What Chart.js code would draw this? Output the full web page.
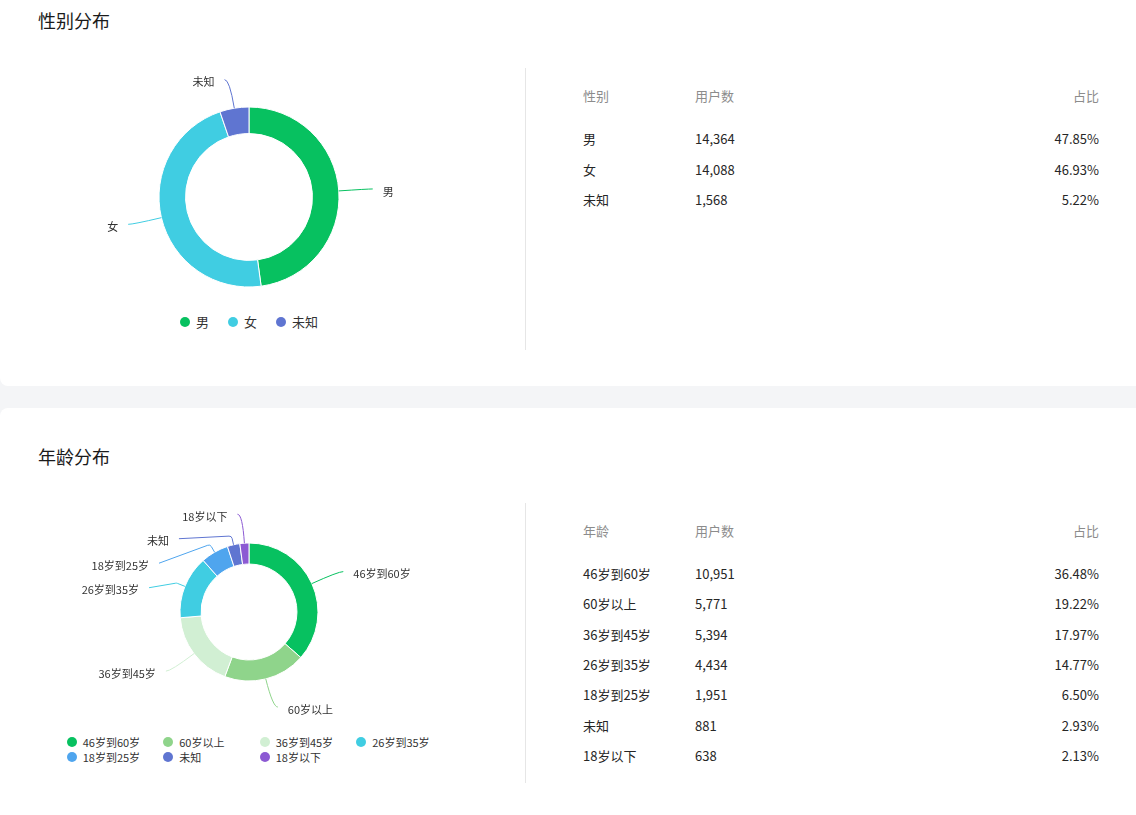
<!DOCTYPE html>
<html>
<head>
<meta charset="utf-8">
<script src="https://cdn.jsdelivr.net/npm/chart.js@4.4.1/dist/chart.umd.min.js"></script>
<style>
  html, body { margin:0; padding:0; }
  body { width:1136px; height:815px; overflow:hidden; background:#f4f5f7; position:relative;
         font-family:"Noto Sans CJK SC","Noto Sans",sans-serif; color:#262626; }
  .card { position:absolute; left:0; width:1160px; background:#fff; border-radius:8px; }
  .title { position:absolute; left:38px; font-size:18px; line-height:24px; color:#1a1a1a; white-space:nowrap; }
  .divider { position:absolute; left:525px; width:1px; background:#e6e6e6; }
  canvas { position:absolute; }
  .cell { position:absolute; font-size:13px; line-height:20px; white-space:nowrap; }
  .hdr { color:#8c8c8c; }
  .legend1 { position:absolute; left:0; width:498px; display:flex; justify-content:center; align-items:center; }
  .legend1 .item { display:flex; align-items:center; margin:0 9.5px; font-size:13px; line-height:18px; color:#333; }
  .dot { width:10px; height:10px; border-radius:50%; margin-right:6px; flex:none; }
  .legend2 { position:absolute; display:grid; grid-template-columns:repeat(4, 96.5px); grid-auto-rows:15px; }
  .legend2 .item { display:flex; align-items:center; font-size:11px; line-height:15px; color:#333; white-space:nowrap; }
</style>
</head>
<body>
<div class="card" style="top:-10px;height:396px;"></div>
<div class="card" style="top:408px;height:430px;"></div>
<div class="title" style="top:8px;">性别分布</div>
<div class="title" style="top:444px;">年龄分布</div>
<div class="divider" style="top:68px;height:282px;"></div>
<div class="divider" style="top:503px;height:280px;"></div>
<canvas id="genderChart" width="520" height="270" style="left:0;top:40px;width:520px;height:270px;"></canvas>
<canvas id="ageChart" width="520" height="230" style="left:0;top:490px;width:520px;height:230px;"></canvas>
<div id="legendGender" class="legend1" style="top:313px;"></div>
<div id="legendAge" class="legend2" style="left:66.7px;top:734.5px;"></div>
<div id="tables"></div>
<script>
// ---------------- data ----------------
const genderCategories = ['男', '女', '未知'];
const genderUsers = [14364, 14088, 1568];
const genderShares = ['47.85%', '46.93%', '5.22%'];
const genderColors = ['#07c160', '#40cde2', '#5f75d1'];

const ageCategories = ['46岁到60岁', '60岁以上', '36岁到45岁', '26岁到35岁', '18岁到25岁', '未知', '18岁以下'];
const ageUsers = [10951, 5771, 5394, 4434, 1951, 881, 638];
const ageShares = ['36.48%', '19.22%', '17.97%', '14.77%', '6.50%', '2.93%', '2.13%'];
const ageColors = ['#07c160', '#8fd48b', '#d1efd3', '#40cde2', '#4fa5ee', '#5f75d1', '#8c5ad3'];

const genderHeaders = ['性别', '用户数', '占比'];
const ageHeaders = ['年龄', '用户数', '占比'];

// ---------------- outside label plugin (ECharts-like layout) ----------------
const outsideLabels = {
  id: 'outsideLabels',
  afterDatasetsDraw(chart, args, opts) {
    const meta = chart.getDatasetMeta(0);
    const labels = chart.data.labels;
    const colors = chart.data.datasets[0].backgroundColor;
    const L1 = opts.length, L2 = opts.length2, spacing = opts.spacing;
    const items = [];
    let cx = 0, cy = 0, R = 0;
    meta.data.forEach((arc, i) => {
      const p = arc.getProps(['x', 'y', 'startAngle', 'endAngle', 'outerRadius'], true);
      cx = p.x; cy = p.y; R = p.outerRadius;
      const mid = (p.startAngle + p.endAngle) / 2;
      const dx = Math.cos(mid), dy = Math.sin(mid);
      const p0 = { x: cx + R * dx, y: cy + R * dy };
      const p1 = { x: p0.x + L1 * dx, y: p0.y + L1 * dy };
      const dir = dx < 0 ? -1 : 1;
      items.push({ i, dx, dy, dir, p0, p1, x: p1.x + dir * L2, y: p1.y, y0: p1.y });
    });
    [-1, 1].forEach(side => {
      const list = items.filter(it => it.dir === side).sort((a, b) => a.y - b.y);
      if (list.length < 2) return;
      let moved = false;
      for (let k = 1; k < list.length; k++) {
        const minY = list[k - 1].y + spacing;
        if (list[k].y < minY) { list[k].y = minY; moved = true; }
      }
      if (!moved) return;
      const rA = R + L1;
      [list.filter(it => it.y <= cy), list.filter(it => it.y > cy)].forEach(semi => {
        if (!semi.length) return;
        let maxDy = -1, rB = rA;
        semi.forEach(it => {
          const ddy = Math.abs(it.y - cy);
          if (ddy >= maxDy) {
            const ddx = it.x - cx - L2 * side;
            rB = Math.abs(ddx) < rA ? Math.sqrt(ddy * ddy / (1 - ddx * ddx / (rA * rA))) : rA;
            maxDy = ddy;
          }
        });
        semi.forEach(it => {
          const ddy = Math.abs(it.y - cy);
          const ddx = Math.sqrt(Math.max(0, 1 - ddy * ddy / (rB * rB))) * rA;
          it.x = cx + (ddx + L2) * side;
        });
      });
    });
    const ctx = chart.ctx;
    ctx.save();
    ctx.lineWidth = 1;
    ctx.font = opts.font;
    items.forEach(it => {
      const shifted = Math.abs(it.y - it.y0) > 2;
      ctx.strokeStyle = colors[it.i];
      ctx.beginPath();
      ctx.moveTo(it.p0.x, it.p0.y);
      if (shifted) {
        const ex = it.p0.x + opts.bend * it.dx, ey = it.p0.y + opts.bend * it.dy;
        ctx.arcTo(ex, ey, it.x, it.y, 3);
        ctx.lineTo(it.x, it.y);
      } else {
        ctx.quadraticCurveTo(it.p1.x, it.p1.y, it.x, it.y);
      }
      ctx.stroke();
      ctx.fillStyle = '#333';
      ctx.textAlign = it.dir < 0 ? 'right' : 'left';
      ctx.textBaseline = 'middle';
      ctx.fillText(labels[it.i], it.x + it.dir * opts.gap, it.y + opts.textDy);
    });
    ctx.restore();
  }
};

function makeDonut(id, cats, vals, colors, radius, cutout, padding) {
  return new Chart(document.getElementById(id), {
    type: 'doughnut',
    data: {
      labels: cats,
      datasets: [{ data: vals, backgroundColor: colors, borderColor: '#ffffff', borderWidth: 1,
                   hoverOffset: 0, hoverBorderWidth: 1 }]
    },
    options: {
      responsive: false,
      animation: false,
      events: [],
      radius: radius,
      cutout: cutout,
      layout: { padding: padding },
      plugins: {
        legend: { display: false },
        tooltip: { enabled: false },
        outsideLabels: { length: 29, length2: 5, gap: 10, spacing: 24.5, bend: 9, textDy: 2.5,
                         font: '11px "Noto Sans CJK SC", "Noto Sans", sans-serif' }
      }
    },
    plugins: [outsideLabels]
  });
}

makeDonut('genderChart', genderCategories, genderUsers, genderColors, 90, '70.5%',
          { left: 159, right: 181, top: 67, bottom: 23 });
makeDonut('ageChart', ageCategories, ageUsers, ageColors, 69, '69.5%',
          { left: 180, right: 202, top: 53, bottom: 39 });

// ---------------- HTML legends ----------------
function buildLegend(el, cats, colors) {
  cats.forEach((c, i) => {
    const item = document.createElement('div');
    item.className = 'item';
    const dot = document.createElement('span');
    dot.className = 'dot';
    dot.style.background = colors[i];
    item.appendChild(dot);
    item.appendChild(document.createTextNode(c));
    el.appendChild(item);
  });
}
buildLegend(document.getElementById('legendGender'), genderCategories, genderColors);
buildLegend(document.getElementById('legendAge'), ageCategories, ageColors);

// ---------------- HTML tables ----------------
const tables = document.getElementById('tables');
function cell(text, x, yc, cls, alignRight) {
  const d = document.createElement('div');
  d.className = 'cell' + (cls ? ' ' + cls : '');
  d.textContent = text;
  d.style.top = (yc - 10) + 'px';
  if (alignRight) { d.style.right = (1136 - x) + 'px'; } else { d.style.left = x + 'px'; }
  tables.appendChild(d);
}
function buildTable(headers, cats, users, shares, headerY, firstRowY, rowStep) {
  cell(headers[0], 583, headerY, 'hdr');
  cell(headers[1], 695, headerY, 'hdr');
  cell(headers[2], 1099, headerY, 'hdr', true);
  cats.forEach((c, i) => {
    const y = firstRowY + i * rowStep;
    cell(c, 583, y);
    cell(users[i].toLocaleString('en-US'), 695, y);
    cell(shares[i], 1099, y, '', true);
  });
}
buildTable(genderHeaders, genderCategories, genderUsers, genderShares, 96, 139, 30.5);
buildTable(ageHeaders, ageCategories, ageUsers, ageShares, 531, 574, 30.35);
</script>
</body>
</html>
